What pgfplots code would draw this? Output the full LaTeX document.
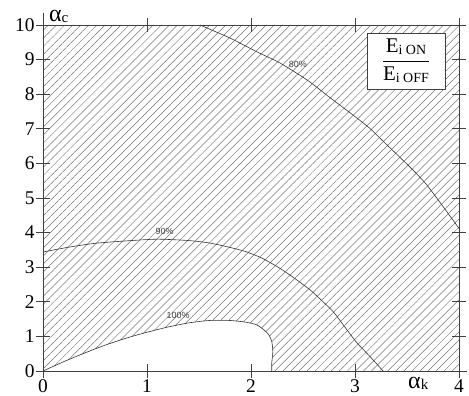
\documentclass[border=0pt]{standalone}
\usepackage{fontspec}
\setmainfont{Liberation Serif}
\newfontfamily\curvefont{Liberation Sans}
\usepackage{pgfplots}
\usepackage{pgfplotstable}
\pgfplotsset{compat=1.18}
\usetikzlibrary{patterns.meta}

\definecolor{frame}{gray}{0.25}
\definecolor{hatch}{gray}{0.45}

% efficiency contours E_i ON / E_i OFF over (alpha_k, alpha_c)
\pgfplotstableread{
x y
0 0
0.2 0.27
0.4 0.52
0.6 0.75
0.8 0.95
1.0 1.12
1.2 1.27
1.4 1.39
1.6 1.46
1.8 1.46
1.95 1.41
2.05 1.34
2.12 1.2
2.17 1.05
2.2 0.85
2.21 0.55
2.2 0.25
2.2 0
}\levelhundred

\pgfplotstableread{
x y
0 3.44
0.25 3.58
0.5 3.69
0.8 3.76
1.1 3.81
1.4 3.77
1.6 3.7
1.8 3.57
1.95 3.45
2.1 3.27
2.25 3.02
2.4 2.72
2.57 2.34
2.7 1.98
2.8 1.68
2.92 1.2
3.02 0.81
3.15 0.4
3.27 0
}\levelninety

\pgfplotstableread{
x y
1.51 10
1.8 9.62
2.06 9.22
2.28 8.9
2.54 8.41
2.76 7.9
2.98 7.4
3.14 7.02
3.24 6.73
3.43 6.18
3.56 5.8
3.69 5.38
3.85 4.74
4.0 4.12
}\leveleighty

\begin{document}
\begin{tikzpicture}
\begin{axis}[
  scale only axis,
  width=416bp, height=346bp,
  xmin=0, xmax=4, ymin=0, ymax=10,
  xtick={0,1,2,3,4}, ytick={0,1,...,10},
  tick align=center,
  major tick length=14bp,
  axis line style={draw=frame, line width=0.8pt},
  every tick/.style={draw=frame, line width=0.8pt},
  ticklabel style={font=\fontsize{19.5}{22}\selectfont},
  /pgf/number format/assume math mode=true,
  yticklabel style={xshift=2bp},
  xticklabel style={yshift=2bp},
  axis on top,
  clip=false,
]
% hatched region: everything above the 100% contour
\addplot[draw=none, pattern={Lines[angle=45, distance=5.7bp, line width=0.5pt]}, pattern color=hatch]
  coordinates {(0,0) (0.2,0.27) (0.4,0.52) (0.6,0.75) (0.8,0.95) (1.0,1.12)
    (1.2,1.27) (1.4,1.39) (1.6,1.46) (1.8,1.46) (1.95,1.41) (2.05,1.34)
    (2.12,1.2) (2.17,1.05) (2.2,0.85) (2.21,0.55) (2.2,0.25) (2.2,0)
    (4,0) (4,10) (0,10)} -- cycle;

\addplot[draw=black!80, line width=0.6pt, smooth, tension=0.4] table {\levelhundred};
\addplot[draw=black!80, line width=0.6pt, smooth, tension=0.4] table {\levelninety};
\addplot[draw=black!80, line width=0.6pt, smooth, tension=0.4] table {\leveleighty};

\node[font=\curvefont\fontsize{9}{9}\selectfont, text=black!75] at (axis cs:1.3,1.62) {100\%};
\node[font=\curvefont\fontsize{9}{9}\selectfont, text=black!75] at (axis cs:1.17,4.02) {90\%};
\node[font=\curvefont\fontsize{9}{9}\selectfont, text=black!75] at (axis cs:2.45,8.87) {80\%};

% ratio box
\node[draw=frame, fill=white, line width=0.8pt, minimum width=78bp, minimum height=56bp, inner sep=0pt,
      font=\fontsize{21}{24}\selectfont] at (axis cs:3.49,8.96)
  {$\displaystyle\frac{\hbox{E\lower2bp\hbox{\fontsize{14}{14}\selectfont i ON}}}{\hbox{E\lower2bp\hbox{\fontsize{14}{14}\selectfont i OFF}}}$};

% axis names
\node[anchor=base west, font=\fontsize{24}{26}\selectfont, inner sep=0pt] at (rel axis cs:0,1) [xshift=6bp, yshift=3bp]
  {α\lower1bp\hbox{\fontsize{15}{15}\selectfont c}};
\node[anchor=base west, font=\fontsize{24}{26}\selectfont, inner sep=0pt] at (axis cs:3.51,0) [yshift=-17bp]
  {α\lower1bp\hbox{\fontsize{15}{15}\selectfont k}};

% frame lines running past the plot area
\draw[frame, line width=0.8pt] (rel axis cs:0,1) -- ++(0,12bp);
\draw[frame, line width=0.8pt] (rel axis cs:1,1) -- ++(0,7bp);
\draw[frame, line width=0.8pt] (rel axis cs:1,0) -- ++(8bp,0);

% page extent
\path (rel axis cs:0,0) ++(-43bp,-23bp) coordinate (bbsw);
\path (rel axis cs:1,1) ++(10bp,25bp) coordinate (bbne);
\end{axis}
\useasboundingbox (bbsw) rectangle (bbne);
\end{tikzpicture}
\end{document}
